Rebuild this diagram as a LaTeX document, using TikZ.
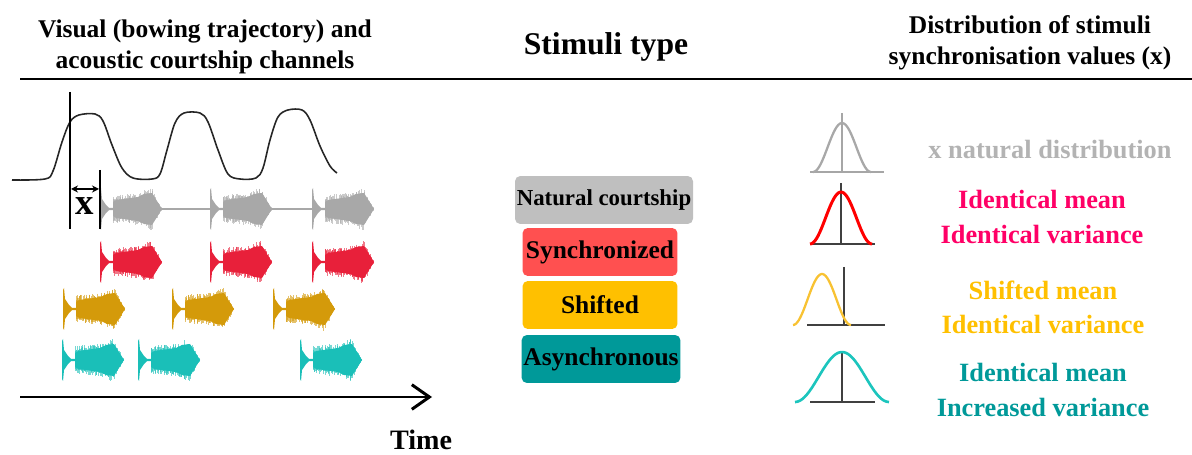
\documentclass[tikz,border=0pt]{standalone}
\usepackage{fontspec}
\setmainfont{Liberation Serif}
\usetikzlibrary{arrows.meta}

\definecolor{wavegray}{HTML}{A8A8A8}
\definecolor{wavered}{HTML}{E8203A}
\definecolor{wavegold}{HTML}{D49A0A}
\definecolor{waveteal}{HTML}{1ABFB8}
\definecolor{boxgray}{HTML}{BFBFBF}
\definecolor{boxred}{HTML}{FF5050}
\definecolor{boxgold}{HTML}{FFC000}
\definecolor{boxteal}{HTML}{009999}
\definecolor{txtgray}{HTML}{B3B3B3}
\definecolor{txtpink}{HTML}{FF0066}
\definecolor{belgold}{HTML}{F8C232}
\definecolor{belteal}{HTML}{1CC5BD}

\begin{document}
\begin{tikzpicture}[
  x=0.02cm, y=-0.02cm,
  headtxt/.style={font=\fontsize{14.5}{17.5}\selectfont\bfseries, align=center},
  stimbox/.style={rounded corners=3pt, minimum width=3.1cm, minimum height=0.96cm, inner sep=1pt, font=\fontsize{14.5}{16}\selectfont\bfseries},
  disttxt/.style={font=\fontsize{15}{19.5}\selectfont\bfseries, align=center},
  thickline/.style={line width=1.7pt},
  bell/.style={line width=1.3pt},
  baseaxis/.style={line width=0.9pt, black!75},
  burst/.pic={
    % onset click and thin gap
    \fill (0,-19) -- (1,-21) -- (2,-10) -- (6,-4) -- (9,-1.2) -- (13,-1.2) -- (13,1.2) -- (9,1.2) -- (6,4) -- (2,10) -- (1,21) -- (0,19) -- cycle;
    % solid core of the syllable
    \fill (13,-7) -- (16,-9) -- (38,-12) -- (44,-15) -- (52,-16) -- (62,0) -- (52,16) -- (44,15) -- (38,12) -- (16,9) -- (13,7) -- cycle;
    % ragged strokes round it
    \foreach \u in {0,0.6,...,49}{
      \pgfmathsetmacro\env{ifthenelse(\u<28, 14+0.1*\u, ifthenelse(\u<38, 17+0.5*(\u-28), 22*(49-\u)/11))}
      \pgfmathsetmacro\up{\env*(0.6+0.4*rnd)}
      \pgfmathsetmacro\dn{\env*(0.6+0.4*rnd)}
      \draw[line width=0.35pt, opacity=0.6] (13+\u,-\up) -- (13+\u,\dn);
    }
  }
]
\useasboundingbox (0,0) rectangle (1192,455);
\pgfmathsetseed{11}

% headings
\node[headtxt] (hdvisual) at (205,47) {Visual (bowing trajectory) and\\acoustic courtship channels};
\node[headtxt, font=\fontsize{18}{20}\selectfont\bfseries] (hdtype) at (606,47) {Stimuli type};
\node[headtxt] (hddist) at (1030,43) {Distribution of stimuli\\synchronisation values (x)};
\draw[thickline] (20,79) -- (1192,79);

% bowing trajectory
\draw[line width=0.9pt, black!85] plot[smooth, tension=0.55] coordinates {
  (12,180) (45,179) (53,171) (62,142) (70,122) (79,115) (95,114) (103,121)
  (112,145) (122,168) (133,178) (152,179) (160,174) (167,150) (175,123) (184,113)
  (200,113) (208,122) (218,150) (228,174) (240,179) (256,178) (263,168) (270,140)
  (278,117) (288,110) (302,110) (310,120) (320,146) (330,166) (337,173)};

% song channels
\draw[wavegray, line width=1.2pt] (100,209) -- (373,209);
\foreach \s in {100,210,312} \pic[wavegray] at (\s,209) {burst};
\foreach \s in {100,210,312} \pic[wavered] at (\s,262) {burst};
\foreach \s in {63,172,273} \pic[wavegold] at (\s,309) {burst};
\foreach \s in {62,138,300} \pic[waveteal] at (\s,360) {burst};

% synchronisation offset x
\draw[thickline] (70,92) -- (70,229);
\draw[thickline] (100,170) -- (100,229);
\coordinate (xa) at (71,189);
\coordinate (xb) at (99,189);
\draw[{Stealth[length=4pt,width=4pt]}-{Stealth[length=4pt,width=4pt]}, line width=0.9pt] (xa) -- (xb);
\node[font=\fontsize{21}{21}\selectfont\bfseries] (xlbl) at (85,206) {x};

% time axis
\coordinate (t0) at (20,397);
\coordinate (t1) at (432,397);
\draw[thickline, -{Straight Barb[length=10pt,width=14pt,line width=1.7pt]}] (t0) -- (t1);
\node[font=\fontsize{16}{16}\selectfont\bfseries] (timelbl) at (421,440) {Time};

% stimuli boxes
\node[stimbox, fill=boxgray, minimum width=3.52cm, font=\fontsize{13}{15}\selectfont\bfseries] (natural) at (604,200) {Natural courtship};
\node[stimbox, fill=boxred] (sync) at (600,252) {Synchronized};
\node[stimbox, fill=boxgold] (shift) at (600,305) {Shifted};
\node[stimbox, fill=boxteal] (async) at (601,359) {Asynchronous};

% distributions
\draw[baseaxis, black!35] (810,172) -- (884,172) (842,113) -- (842,172);
\draw[bell, wavegray] plot[domain=-1:1, samples=40, smooth] ({842+29*\x}, {172-49*(1+cos(180*\x))/2});

\draw[baseaxis] (810,244) -- (875,244) (841,183) -- (841,244);
\draw[bell, red, line width=1.7pt] plot[domain=-1:1, samples=40, smooth] ({841+31*\x}, {244-52*(1+cos(180*\x))/2});

\draw[baseaxis] (807,325) -- (885,325) (844,267) -- (844,325);
\draw[bell, belgold] plot[domain=-1:1, samples=40, smooth] ({822+29*\x}, {325-51*(1+cos(180*\x))/2});

\draw[baseaxis] (810,402) -- (875,402) (842,351) -- (842,402);
\draw[bell, belteal, line width=1.5pt] plot[domain=-1:1, samples=40, smooth] ({842+47*\x}, {402-50*(1+cos(180*\x))/2});

% labels
\node[disttxt, txtgray] (lblnat) at (1050,150) {x natural distribution};
\node[disttxt, txtpink] (lblsync) at (1042,217) {Identical mean\\Identical variance};
\node[disttxt, boxgold] (lblshift) at (1043,307) {Shifted mean\\Identical variance};
\node[disttxt, boxteal] (lblasync) at (1043,390) {Identical mean\\Increased variance};
\end{tikzpicture}
\end{document}
